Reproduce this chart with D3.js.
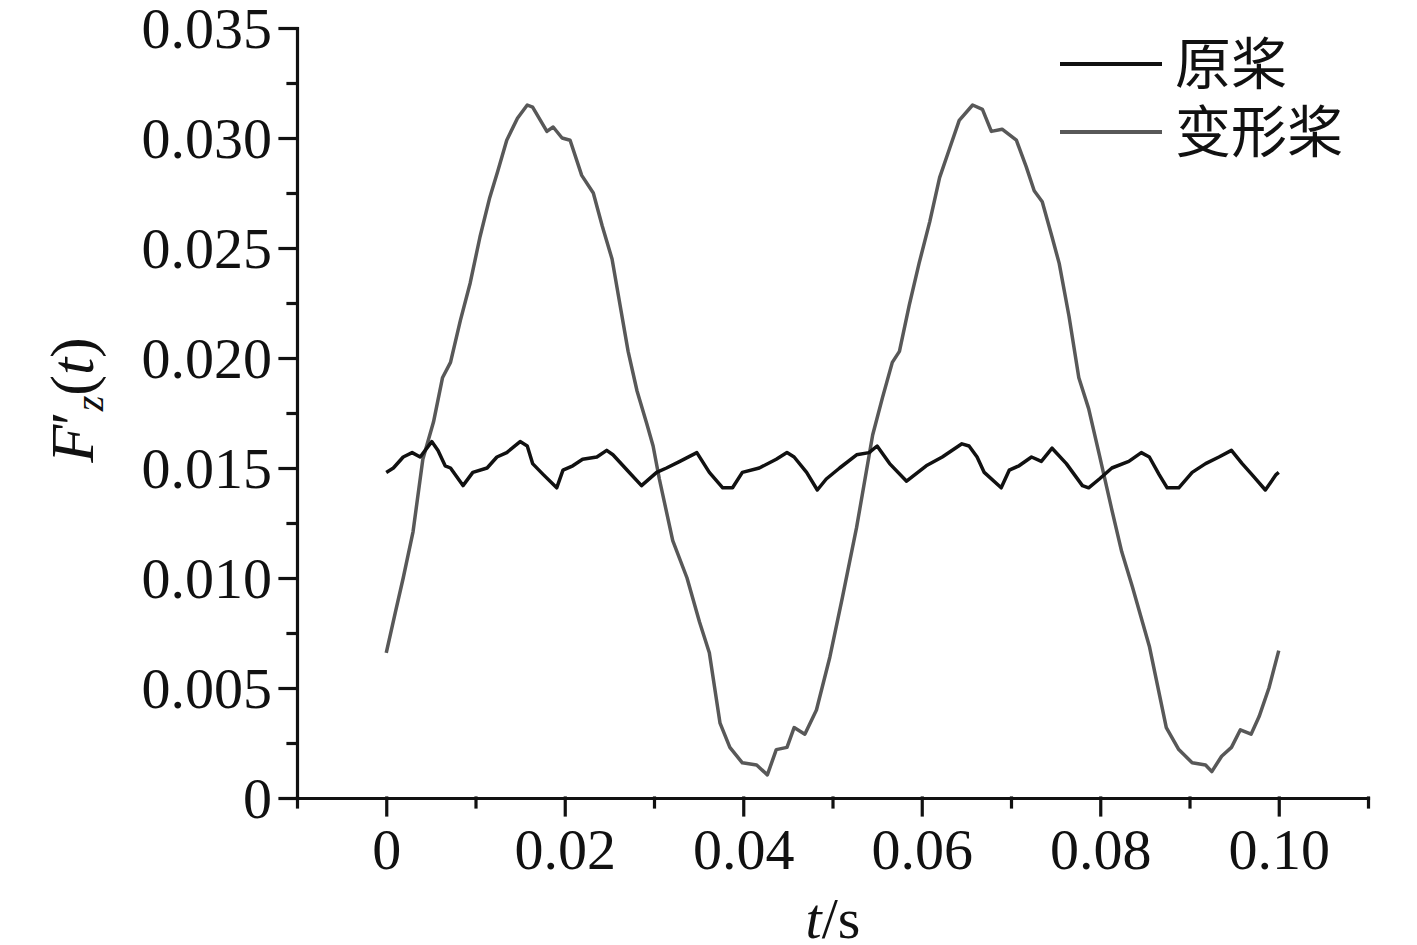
<!DOCTYPE html>
<html>
<head>
<meta charset="utf-8">
<script src="https://cdn.jsdelivr.net/npm/d3@7"></script>
<style>
  body { margin: 0; background: white; }
</style>
</head>
<body>
<div id="chart"></div>
<script>
var width = 1417;
var height = 945;

// time values (s) and F'z(t)
var originalT = [0, 0.0008, 0.0019, 0.0029, 0.0038, 0.0051, 0.0058, 0.0066, 0.0072, 0.0086, 0.0097, 0.0113, 0.0124, 0.0135, 0.0150, 0.0158, 0.0164, 0.0176, 0.0191, 0.0198, 0.0209, 0.0220, 0.0236, 0.0247, 0.0254, 0.0270, 0.0286, 0.0303, 0.0314, 0.0329, 0.0348, 0.0362, 0.0377, 0.0388, 0.0399, 0.0418, 0.0437, 0.0449, 0.0457, 0.0471, 0.0483, 0.0493, 0.0508, 0.0527, 0.0541, 0.0550, 0.0564, 0.0583, 0.0605, 0.0623, 0.0645, 0.0653, 0.0662, 0.0670, 0.0689, 0.0698, 0.0709, 0.0723, 0.0734, 0.0746, 0.0762, 0.0780, 0.0787, 0.0799, 0.0813, 0.0832, 0.0846, 0.0855, 0.0866, 0.0875, 0.0888, 0.0903, 0.0918, 0.0933, 0.0947, 0.0959, 0.0970, 0.0985, 0.0997, 0.1000];
var originalF = [0.0148, 0.0150, 0.0155, 0.0157, 0.0155, 0.0162, 0.0158, 0.0151, 0.0150, 0.0142, 0.0148, 0.0150, 0.0155, 0.0157, 0.0162, 0.0160, 0.0152, 0.0147, 0.0141, 0.0149, 0.0151, 0.0154, 0.0155, 0.0158, 0.0156, 0.0149, 0.0142, 0.0148, 0.0150, 0.0153, 0.0157, 0.0148, 0.0141, 0.0141, 0.0148, 0.0150, 0.0154, 0.0157, 0.0155, 0.0148, 0.0140, 0.0145, 0.0150, 0.0156, 0.0157, 0.0160, 0.0152, 0.0144, 0.0151, 0.0155, 0.0161, 0.0160, 0.0155, 0.0148, 0.0141, 0.0149, 0.0151, 0.0155, 0.0153, 0.0159, 0.0152, 0.0142, 0.0141, 0.0145, 0.0150, 0.0153, 0.0157, 0.0155, 0.0147, 0.0141, 0.0141, 0.0148, 0.0152, 0.0155, 0.0158, 0.0152, 0.0147, 0.0140, 0.0147, 0.0148];

var deformedT = [0, 0.0010, 0.0019, 0.0030, 0.0041, 0.0053, 0.0063, 0.0072, 0.0083, 0.0094, 0.0105, 0.0116, 0.0125, 0.0135, 0.0147, 0.0158, 0.0164, 0.0180, 0.0187, 0.0197, 0.0206, 0.0219, 0.0232, 0.0242, 0.0253, 0.0262, 0.0271, 0.0281, 0.0292, 0.0299, 0.0306, 0.0321, 0.0337, 0.0351, 0.0362, 0.0374, 0.0385, 0.0399, 0.0415, 0.0427, 0.0437, 0.0449, 0.0457, 0.0469, 0.0482, 0.0497, 0.0511, 0.0527, 0.0545, 0.0556, 0.0567, 0.0575, 0.0586, 0.0597, 0.0609, 0.0620, 0.0631, 0.0642, 0.0657, 0.0668, 0.0678, 0.0690, 0.0706, 0.0717, 0.0726, 0.0735, 0.0746, 0.0754, 0.0765, 0.0776, 0.0787, 0.0799, 0.0813, 0.0824, 0.0836, 0.0855, 0.0874, 0.0888, 0.0903, 0.0918, 0.0925, 0.0936, 0.0947, 0.0957, 0.0969, 0.0978, 0.0989, 0.1000];
var deformedF = [0.0066, 0.0084, 0.0100, 0.0121, 0.0154, 0.0171, 0.0191, 0.0198, 0.0217, 0.0234, 0.0255, 0.0273, 0.0285, 0.0299, 0.0309, 0.0315, 0.0314, 0.0303, 0.0305, 0.0300, 0.0299, 0.0283, 0.0275, 0.0260, 0.0245, 0.0224, 0.0203, 0.0185, 0.0170, 0.0160, 0.0145, 0.0117, 0.0100, 0.0080, 0.0066, 0.0034, 0.0023, 0.0016, 0.0015, 0.00105, 0.0022, 0.0023, 0.0032, 0.0029, 0.0040, 0.0064, 0.0091, 0.0123, 0.0165, 0.0182, 0.0198, 0.0203, 0.0224, 0.0243, 0.0262, 0.0282, 0.0295, 0.0308, 0.0315, 0.0313, 0.0303, 0.0304, 0.0299, 0.0287, 0.0276, 0.0271, 0.0255, 0.0243, 0.0219, 0.0191, 0.0177, 0.0156, 0.0131, 0.0112, 0.0096, 0.0069, 0.0032, 0.0022, 0.0016, 0.0015, 0.0012, 0.0019, 0.0023, 0.0031, 0.0029, 0.0037, 0.0050, 0.0067];

var seriesNames = ["原桨", "变形桨"];
var xTicks = [0, 0.02, 0.04, 0.06, 0.08, 0.10];
var xTickLabels = ["0", "0.02", "0.04", "0.06", "0.08", "0.10"];
var xMinorTicks = [-0.01, 0.01, 0.03, 0.05, 0.07, 0.09, 0.11];
var yTicks = [0, 0.005, 0.010, 0.015, 0.020, 0.025, 0.030, 0.035];
var yTickLabels = ["0", "0.005", "0.010", "0.015", "0.020", "0.025", "0.030", "0.035"];
var yMinorTicks = [0.0025, 0.0075, 0.0125, 0.0175, 0.0225, 0.0275, 0.0325];

var plotLeft = 297, plotRight = 1368, plotTop = 28, plotBottom = 798;
var serif = "'Liberation Serif', 'Times New Roman', serif";
var cjk = "'Noto Sans CJK SC', sans-serif";
var colors = ["#111111", "#585858"];

var svg = d3.select("#chart")
    .append("svg")
    .attr("width", width)
    .attr("height", height)
    .style("display", "block");

var x = d3.scaleLinear().domain([-0.01, 0.11]).range([plotLeft, plotRight]);
var y = d3.scaleLinear().domain([0, 0.035]).range([plotBottom, plotTop]);

// axes: major ticks 17px, minor 9px, pointing outward
var xAxis = svg.append("g")
    .attr("transform", "translate(0," + plotBottom + ")")
    .call(d3.axisBottom(x).tickValues(xTicks).tickSize(17).tickSizeOuter(0)
        .tickFormat(function(d, i) { return xTickLabels[i]; }));
svg.append("g")
    .attr("transform", "translate(0," + plotBottom + ")")
    .call(d3.axisBottom(x).tickValues(xMinorTicks).tickSize(9).tickSizeOuter(0).tickFormat(""))
    .select(".domain").remove();

var yAxis = svg.append("g")
    .attr("transform", "translate(" + plotLeft + ",0)")
    .call(d3.axisLeft(y).tickValues(yTicks).tickSize(17).tickSizeOuter(0)
        .tickFormat(function(d, i) { return yTickLabels[i]; }));
svg.append("g")
    .attr("transform", "translate(" + plotLeft + ",0)")
    .call(d3.axisLeft(y).tickValues(yMinorTicks).tickSize(9).tickSizeOuter(0).tickFormat(""))
    .select(".domain").remove();

svg.selectAll(".domain, .tick line")
    .attr("stroke", "#111")
    .attr("stroke-width", 3.2)
    .attr("stroke-linecap", "square");

xAxis.selectAll(".tick text")
    .attr("y", 71)
    .attr("dy", 0)
    .attr("fill", "#111")
    .style("font-family", serif)
    .style("font-size", "58px");

yAxis.selectAll(".tick text")
    .attr("x", -25)
    .attr("dy", "0.33em")
    .attr("fill", "#111")
    .style("font-family", serif)
    .style("font-size", "58px");

// data lines
var line = d3.line()
    .x(function(d) { return x(d[0]); })
    .y(function(d) { return y(d[1]); });

var series = [
    d3.zip(originalT, originalF),
    d3.zip(deformedT, deformedF)
];

svg.append("path")
    .datum(series[1])
    .attr("d", line)
    .attr("fill", "none")
    .attr("stroke", colors[1])
    .attr("stroke-width", 3.5)
    .attr("stroke-linejoin", "round");

svg.append("path")
    .datum(series[0])
    .attr("d", line)
    .attr("fill", "none")
    .attr("stroke", colors[0])
    .attr("stroke-width", 3.5)
    .attr("stroke-linejoin", "round");

// legend
var legend = svg.append("g");
seriesNames.forEach(function(name, i) {
    var ly = 64 + i * 68;
    legend.append("line")
        .attr("x1", 1060)
        .attr("x2", 1162)
        .attr("y1", ly)
        .attr("y2", ly)
        .attr("stroke", colors[i])
        .attr("stroke-width", 4);
    legend.append("text")
        .attr("x", 1175)
        .attr("y", ly + 20)
        .text(name)
        .attr("fill", "#111")
        .style("font-family", cjk)
        .style("font-size", "56px");
});

// axis titles
var xTitle = svg.append("text")
    .attr("x", 833)
    .attr("y", 938)
    .style("text-anchor", "middle")
    .style("font-family", serif)
    .style("font-size", "58px")
    .attr("fill", "#111");
xTitle.append("tspan").style("font-style", "italic").text("t");
xTitle.append("tspan").text("/s");

var yTitle = svg.append("text")
    .attr("transform", "translate(93,400) rotate(-90)")
    .style("text-anchor", "middle")
    .style("font-family", serif)
    .style("font-size", "62px")
    .attr("fill", "#111");
yTitle.append("tspan").style("font-style", "italic").text("F");
yTitle.append("tspan").text("′");
yTitle.append("tspan").style("font-style", "italic").style("font-size", "40px").attr("dy", 10).text("z");
yTitle.append("tspan").attr("dy", -10).text("(");
yTitle.append("tspan").style("font-style", "italic").text("t");
yTitle.append("tspan").text(")");
</script>
</body>
</html>
